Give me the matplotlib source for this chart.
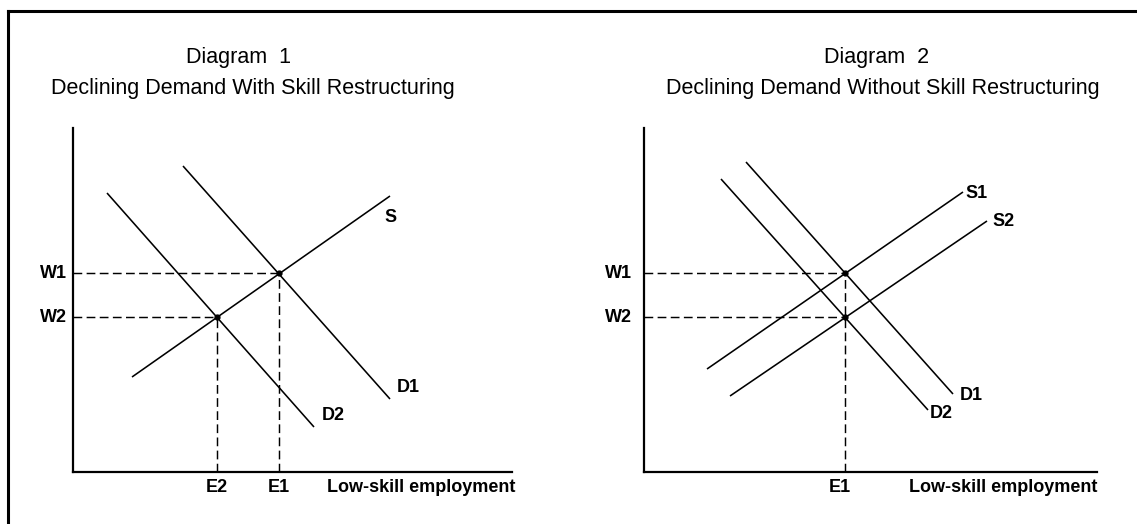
import matplotlib
matplotlib.use("Agg")
import matplotlib.pyplot as plt
from matplotlib.lines import Line2D

plt.rcParams['font.family'] = ['Liberation Sans', 'DejaVu Sans']

W, H = 1137, 524

# wage / employment levels (same units in both diagrams)
wages = [19.9, 15.5]
wage_labels = ['W1', 'W2']

# diagram 1: one supply curve, demand shifts from D1 to D2
d1_emp = [20.6, 14.4]
d1_emp_labels = ['E1', 'E2']
d1_S = ([5.9, 31.7], [9.5, 27.6])
d1_D1 = ([11.0, 31.7], [30.6, 7.3])
d1_D2 = ([3.4, 24.1], [27.9, 4.5])

# diagram 2: supply shifts S1 -> S2 along with demand D1 -> D2
d2_emp = [20.1]
d2_emp_labels = ['E1']
d2_S1 = ([6.3, 31.9], [10.3, 28.0])
d2_S2 = ([8.6, 34.3], [7.6, 25.1])
d2_D1 = ([10.2, 30.9], [31.0, 7.8])
d2_D2 = ([7.7, 28.4], [29.3, 6.2])

fig = plt.figure(figsize=(W / 100, H / 100), dpi=100)
fig.patch.set_facecolor('white')


def px_axes(left, top, right, bottom):
    return fig.add_axes([left / W, 1 - bottom / H, (right - left) / W, (bottom - top) / H])


def setup(ax, xmax, ymax):
    ax.set_xlim(0, xmax)
    ax.set_ylim(0, ymax)
    for s in ['top', 'right']:
        ax.spines[s].set_visible(False)
    for s in ['left', 'bottom']:
        ax.spines[s].set_linewidth(1.6)
        ax.spines[s].set_color('black')
    ax.set_xticks([])
    ax.set_yticks([])
    ax.patch.set_alpha(0)


line_kw = dict(color='black', lw=1.15, solid_capstyle='butt')
dash_kw = dict(color='black', lw=1.05, dashes=(6, 3))
lab_kw = dict(fontsize=13, fontweight='bold', va='center', clip_on=False)

# ---- diagram 1
ax1 = px_axes(73, 128, 512, 472)
setup(ax1, 43.9, 34.4)
for curve in (d1_S, d1_D1, d1_D2):
    ax1.plot(curve[0], curve[1], **line_kw)
for e, w in zip(d1_emp, wages):
    ax1.plot([0, e], [w, w], **dash_kw)
    ax1.plot([e, e], [0, w], **dash_kw)
    ax1.plot([e], [w], 'o', color='black', ms=3.5)
for w, lab in zip(wages, wage_labels):
    ax1.text(-0.6, w, lab, ha='right', **lab_kw)
for e, lab in zip(d1_emp, d1_emp_labels):
    ax1.text(e, -1.5, lab, ha='center', **lab_kw)
ax1.text(44.2, -1.5, 'Low-skill employment', ha='right', **lab_kw)
ax1.text(31.8, 25.4, 'S', ha='center', **lab_kw)
ax1.text(33.5, 8.5, 'D1', ha='center', **lab_kw)
ax1.text(26.0, 5.7, 'D2', ha='center', **lab_kw)

# ---- diagram 2
ax2 = px_axes(644, 128, 1097, 472)
setup(ax2, 45.3, 34.4)
for curve in (d2_S1, d2_S2, d2_D1, d2_D2):
    ax2.plot(curve[0], curve[1], **line_kw)
e = d2_emp[0]
ax2.plot([0, e], [wages[0], wages[0]], **dash_kw)
ax2.plot([0, e], [wages[1], wages[1]], **dash_kw)
ax2.plot([e, e], [0, wages[0]], **dash_kw)
ax2.plot([e, e], [wages[0], wages[1]], 'o', color='black', ms=3.5)
for w, lab in zip(wages, wage_labels):
    ax2.text(-1.2, w, lab, ha='right', **lab_kw)
ax2.text(e - 0.5, -1.5, d2_emp_labels[0], ha='center', **lab_kw)
ax2.text(45.3, -1.5, 'Low-skill employment', ha='right', **lab_kw)
ax2.text(32.1, 27.8, 'S1', ha='left', **lab_kw)
ax2.text(34.8, 25.1, 'S2', ha='left', **lab_kw)
ax2.text(31.6, 7.6, 'D1', ha='left', **lab_kw)
ax2.text(28.6, 5.8, 'D2', ha='left', **lab_kw)

# ---- titles
title_kw = dict(fontsize=15.5, ha='center', va='center')
fig.text(238 / W, 1 - 57 / H, 'Diagram  1', **title_kw)
fig.text(253 / W, 1 - 88 / H, 'Declining Demand With Skill Restructuring', **title_kw)
fig.text(877 / W, 1 - 57 / H, 'Diagram  2', **title_kw)
fig.text(883 / W, 1 - 88 / H, 'Declining Demand Without Skill Restructuring', **title_kw)

# frame: top and left rules
fig.add_artist(Line2D([8 / W, 1], [1 - 11 / H, 1 - 11 / H], color='black', lw=2.2))
fig.add_artist(Line2D([8 / W, 8 / W], [0, 1 - 11 / H], color='black', lw=2.2))

fig.savefig('out.png', dpi=100)
